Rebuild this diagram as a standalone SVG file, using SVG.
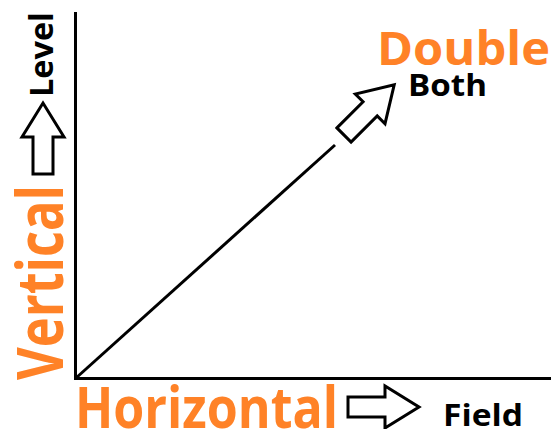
<svg xmlns="http://www.w3.org/2000/svg" width="552" height="429" viewBox="0 0 552 429">
<style>
.axis{stroke:#000;stroke-width:3;fill:none}
.blk{fill:#fff;stroke:#000;stroke-width:3;stroke-linejoin:miter}
.big{font-family:"Open Sans","Liberation Sans",sans-serif;font-weight:bold;fill:#FF8227}
.lbl{font-family:"Open Sans","Liberation Sans",sans-serif;font-weight:bold;fill:#000}
</style>
<defs>
<polygon id="blockArrow" points="0,-10 37,-10 37,-21 71,0 37,21 37,10 0,10"/>
</defs>
<g id="connectors">
<line class="axis" x1="75.5" y1="12" x2="75.5" y2="380"/>
<line class="axis" x1="74" y1="378.5" x2="551" y2="378.5"/>
<line class="axis" x1="76" y1="378" x2="335" y2="145"/>
</g>
<g id="vertical">
<text class="big" font-size="64" transform="translate(63,380) rotate(-90)" textLength="195" lengthAdjust="spacingAndGlyphs">Vertical</text>
<use href="#blockArrow" class="blk" transform="translate(43,174) rotate(-90)"/>
<text class="lbl" font-size="33" transform="translate(53,97) rotate(-90)" textLength="85" lengthAdjust="spacingAndGlyphs">Level</text>
</g>
<g id="horizontal">
<text class="big" x="75" y="428" font-size="57" textLength="263" lengthAdjust="spacingAndGlyphs">Horizontal</text>
<use href="#blockArrow" class="blk" transform="translate(348,407)"/>
<text class="lbl" x="443" y="426" font-size="30" textLength="80" lengthAdjust="spacingAndGlyphs">Field</text>
</g>
<g id="double">
<use href="#blockArrow" class="blk" transform="translate(344,135) rotate(-45)"/>
<text class="big" x="377" y="64.5" font-size="46" textLength="173" lengthAdjust="spacingAndGlyphs">Double</text>
<text class="lbl" x="408" y="96" font-size="31" textLength="79" lengthAdjust="spacingAndGlyphs">Both</text>
</g>
</svg>
